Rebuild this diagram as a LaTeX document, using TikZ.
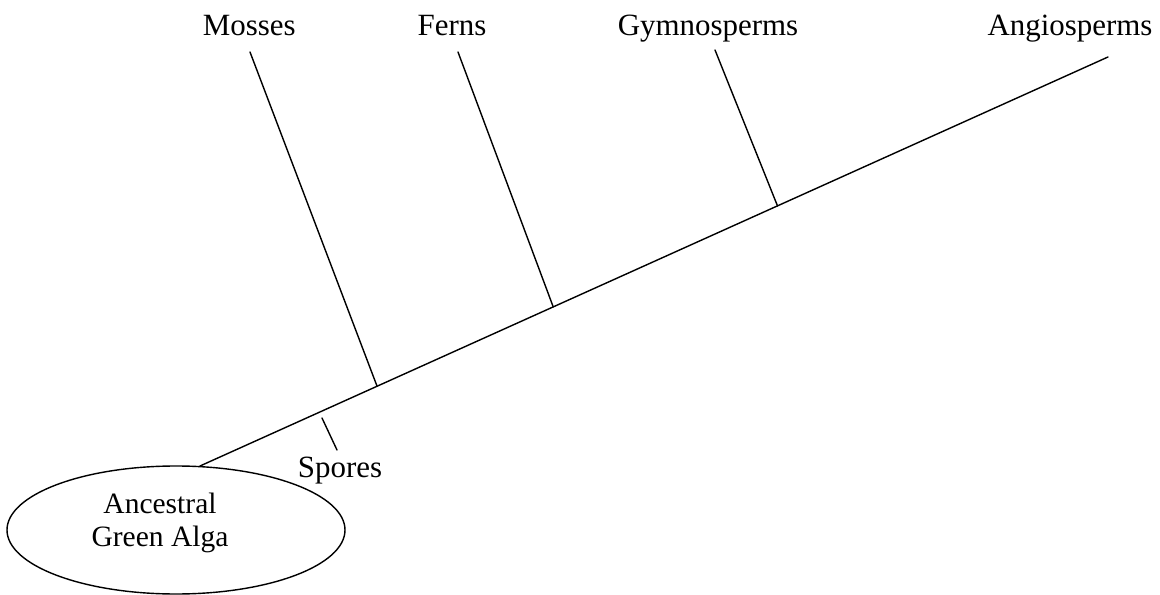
\documentclass[tikz,border=0pt]{standalone}
\usepackage{fontspec}
\setmainfont{Liberation Serif}
\usetikzlibrary{shapes, positioning, calc}

\begin{document}
\begin{tikzpicture}[
  branch/.style={line width=1pt, line cap=round},
  taxon/.style={font=\fontsize{22}{26}\selectfont, inner sep=2pt, anchor=base},
  algabox/.style={draw, line width=1pt, ellipse, minimum width=8.45cm, minimum height=3.2cm},
  algatext/.style={font=\fontsize{21}{23.5}\selectfont, align=center}
]
  \useasboundingbox (0,0) rectangle (29,-14.875);

  % ancestor
  \node[algabox] (alga) at (4.4,-13.25) {};
  \node[algatext] (algalabel) at (4.0,-13.08) {Ancestral\\Green Alga};

  % main stem
  \coordinate (root) at (5.0,-11.65);
  \coordinate (tip) at (27.7,-1.425);
  \draw[branch] (root) -- (tip);

  % junctions on the stem
  \coordinate (mossjoin) at ($(root)!0.195!(tip)$);
  \coordinate (fernjoin) at ($(root)!0.389!(tip)$);
  \coordinate (gymnojoin) at ($(root)!0.636!(tip)$);

  % branch tops
  \coordinate (mosstop) at (6.25,-1.3);
  \coordinate (ferntop) at (11.45,-1.3);
  \coordinate (gymnotop) at (17.875,-1.25);
  \draw[branch] (mossjoin) -- (mosstop);
  \draw[branch] (fernjoin) -- (ferntop);
  \draw[branch] (gymnojoin) -- (gymnotop);

  % spores tick
  \coordinate (sporestart) at (8.05,-10.45);
  \coordinate (sporeend) at (8.425,-11.25);
  \draw[branch] (sporestart) -- (sporeend);

  % labels
  \node[taxon] (mosses) at (6.23,-0.9) {Mosses};
  \node[taxon] (ferns) at (11.3,-0.9) {Ferns};
  \node[taxon] (gymno) at (17.7,-0.9) {Gymnosperms};
  \node[taxon] (angio) at (26.75,-0.9) {Angiosperms};
  \node[taxon] (spores) at (8.5,-11.925) {Spores};
\end{tikzpicture}
\end{document}
